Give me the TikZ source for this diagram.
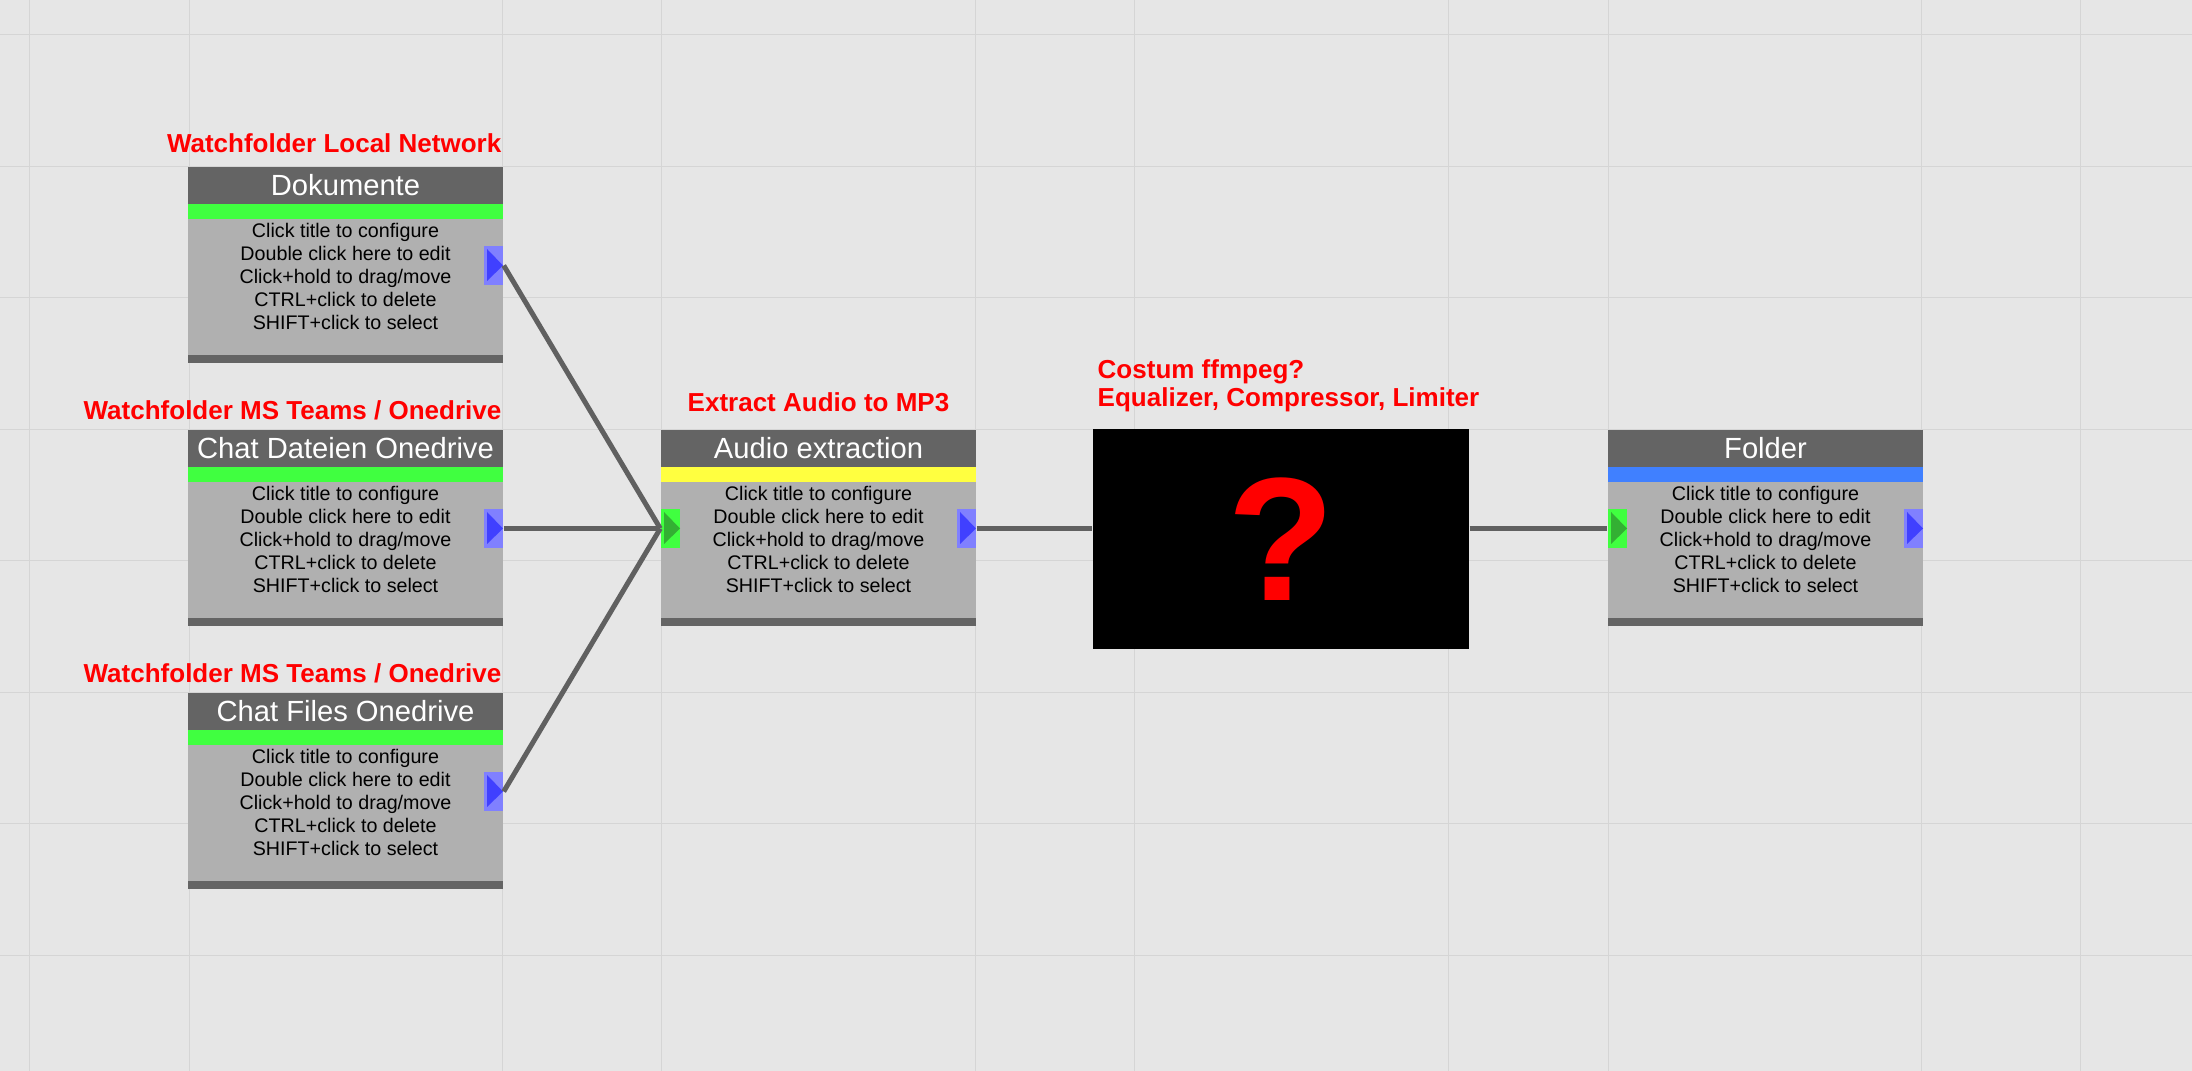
\documentclass[tikz,border=0pt]{standalone}
\usepackage{fontspec}
\setmainfont{Liberation Sans}
\definecolor{canvas}{HTML}{E6E6E6}
\definecolor{gridgray}{HTML}{D5D5D5}
\definecolor{titlegray}{HTML}{646464}
\definecolor{bodygray}{HTML}{B0B0B0}
\definecolor{barGreen}{HTML}{40FF40}
\definecolor{barYellow}{HTML}{FFFF40}
\definecolor{barBlue}{HTML}{4080FF}
\definecolor{portBlue}{HTML}{8080FF}
\definecolor{tipBlue}{HTML}{4040FF}
\definecolor{tipGreen}{HTML}{33B033}
\definecolor{notered}{HTML}{FF0000}
\definecolor{wiregray}{HTML}{606060}
\begin{document}
\begin{tikzpicture}[x=0.1mm, y=-0.1mm,
  gridline/.style={draw=gridgray, line width=0.1mm},
  titletext/.style={font=\fontsize{8.3}{9}\selectfont, text=white, inner sep=0pt},
  bodytext/.style={font=\fontsize{5.6}{6.5}\selectfont, text=black, anchor=base, inner sep=0pt},
  notetext/.style={font=\bfseries\fontsize{7.4}{8.4}\selectfont, text=notered, inner sep=0pt},
  outport/.style={minimum width=1.9mm, minimum height=3.9mm, inner sep=0pt, fill=portBlue,
    path picture={\fill[tipBlue] ([xshift=0.3mm,yshift=-0.3mm]path picture bounding box.north west)
      -- ([xshift=0.3mm,yshift=0.4mm]path picture bounding box.south west)
      -- (path picture bounding box.east) -- cycle;}},
  inport/.style={minimum width=1.9mm, minimum height=3.9mm, inner sep=0pt, fill=barGreen,
    path picture={\fill[tipGreen] ([xshift=0.3mm,yshift=-0.3mm]path picture bounding box.north west)
      -- ([xshift=0.3mm,yshift=0.4mm]path picture bounding box.south west)
      -- (path picture bounding box.east) -- cycle;}},
  wire/.style={draw=wiregray, line width=0.5mm}]

\fill[canvas] (0,0) rectangle (2192,1071);
\useasboundingbox (0,0) rectangle (2192,1071);
\foreach \gx in {29,189,502,661,975,1134,1448,1608,1921,2080}
  \draw[gridline] (\gx,0) -- (\gx,1071);
\foreach \k in {0,...,7}
  \draw[gridline] (0,35+131.5*\k) -- (2192,35+131.5*\k);

\foreach \n/\x/\y/\t/\c in {dok/188/167/Dokumente/barGreen,
    dat/188/430/Chat Dateien Onedrive/barGreen,
    fil/188/693/Chat Files Onedrive/barGreen,
    aud/661/430/Audio extraction/barYellow,
    fol/1608/430/Folder/barBlue}{
  \fill[titlegray] (\x,\y) rectangle ++(315,37);
  \fill[\c] (\x,\y+37) rectangle ++(315,15);
  \fill[bodygray] (\x,\y+52) rectangle ++(315,136);
  \fill[titlegray] (\x,\y+188) rectangle ++(315,8);
  \node[titletext] (\n-title) at (\x+157.5,\y+18.5) {\t};
  \foreach \l [count=\i] in {Click title to configure, Double click here to edit,
      Click+hold to drag/move, CTRL+click to delete, SHIFT+click to select}
    \node[bodytext] (\n-l\i) at (\x+157.5,\y+48+23*\i) {\l};
  \node[outport] (\n-out) at (\x+305.5,\y+98.5) {};
}
\node[inport] (aud-in) at (670.5,528.5) {};
\node[inport] (fol-in) at (1617.5,528.5) {};

\node[fill=black, minimum width=37.6mm, minimum height=22mm, inner sep=0pt,
  text=notered, font=\bfseries\fontsize{50}{50}\selectfont] (ffm) at (1281,539) {?};

\node[notetext, anchor=base east] (dok-note) at (502,153) {Watchfolder Local Network};
\node[notetext, anchor=base east] (dat-note) at (502,420) {Watchfolder MS Teams / Onedrive};
\node[notetext, anchor=base east] (fil-note) at (502,683) {Watchfolder MS Teams / Onedrive};
\node[notetext, anchor=base] (aud-note) at (818.5,412) {Extract Audio to MP3};
\node[notetext, anchor=base west] (ffm-note) at (1097,379) {Costum ffmpeg?};
\node[notetext, anchor=base west] (ffm-list) at (1097,407) {Equalizer, Compressor, Limiter};

\draw[wire] (dok-out.east) -- (aud-in.west);
\draw[wire] (dat-out.east) -- (aud-in.west);
\draw[wire] (fil-out.east) -- (aud-in.west);
\draw[wire] (aud-out.east) -- (aud-out.east -| ffm.west);
\draw[wire] (fol-in.west -| ffm.east) -- (fol-in.west);
\end{tikzpicture}
\end{document}
